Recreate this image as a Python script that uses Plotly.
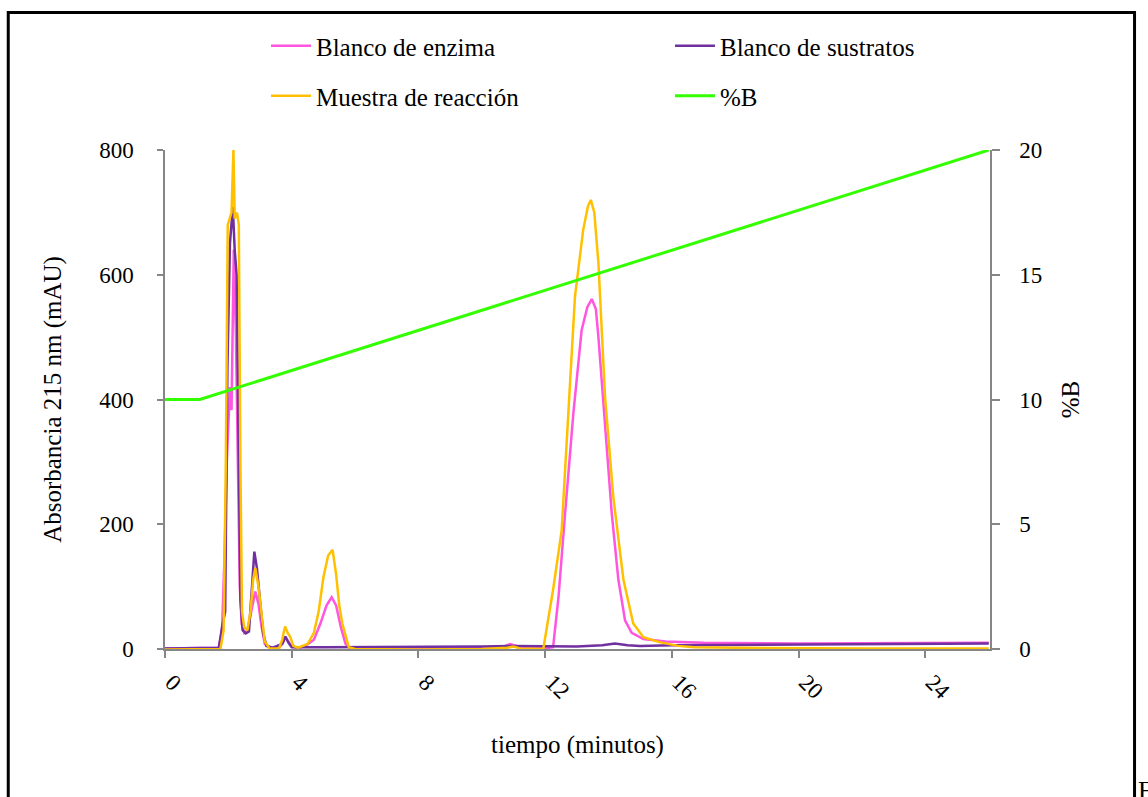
import plotly.graph_objects as go

# --- Cromatograma: absorbancia a 215 nm (mAU) frente al tiempo (min) ---
t_enzima = [0, 1.0, 1.7, 1.8, 1.88, 1.95, 2.05, 2.1, 2.17, 2.24, 2.3, 2.36, 2.42, 2.5, 2.6,
            2.7, 2.85, 2.95, 3.05, 3.15, 3.3, 3.6, 3.72, 3.8, 3.9, 4.0, 4.2, 4.4, 4.7, 4.9,
            5.1, 5.26, 5.4, 5.55, 5.7, 5.85, 6.0, 7, 8, 9, 10, 10.7, 10.9, 11.1, 11.5, 12.0,
            12.25, 12.42, 12.63, 12.89, 13.15, 13.33, 13.47, 13.6, 13.68, 13.89, 14.1,
            14.31, 14.52, 14.73, 15.1, 15.8, 17, 20, 23, 26]
abs_enzima = [1, 1, 2, 30, 150, 300, 420, 383, 640, 500, 300, 100, 40, 26, 30,
              55, 92, 72, 35, 8, 3, 2, 10, 19, 12, 4, 2, 4, 15, 40,
              70, 83, 70, 35, 8, 1, 0, 0, 1, 1, 2, 4, 8, 5, 2, 1,
              3, 83, 218, 378, 511, 548, 561, 545, 500, 351, 218,
              111, 46, 26, 16, 12, 10, 9, 10, 10]

t_sustratos = [0, 1.0, 1.7, 1.8, 1.9, 1.97, 2.05, 2.14, 2.2, 2.26, 2.32, 2.38, 2.45, 2.55,
               2.65, 2.72, 2.82, 2.9, 3.0, 3.1, 3.2, 3.4, 3.7, 3.8, 3.9, 4.0, 5, 6, 8, 10,
               11, 12, 13, 13.8, 14.2, 14.6, 15, 16, 20, 23, 26]
abs_sustratos = [1, 1, 2, 35, 60, 450, 650, 709, 640, 600, 350, 80, 30, 25,
                 28, 80, 156, 130, 78, 25, 5, 2, 8, 20, 10, 3, 3, 3, 4, 4,
                 5, 4, 4, 6, 9, 6, 5, 6, 7, 8, 9]

t_muestra = [0, 1.0, 1.75, 1.85, 1.92, 1.98, 2.05, 2.1, 2.16, 2.2, 2.27, 2.33, 2.38, 2.43,
             2.5, 2.6, 2.7, 2.78, 2.85, 2.95, 3.05, 3.15, 3.3, 3.6, 3.7, 3.79, 3.88, 3.95,
             4.05, 4.2, 4.5, 4.7, 4.85, 5.0, 5.15, 5.29, 5.4, 5.5, 5.6, 5.7, 5.8, 6.0, 8,
             10, 10.8, 11.0, 11.2, 11.94, 12.25, 12.52, 12.73, 12.94, 13.2, 13.35, 13.44,
             13.55, 13.68, 13.89, 14.15, 14.47, 14.78, 15.1, 15.6, 16.2, 16.7, 18, 22, 26]
abs_muestra = [-1, -1, 0, 30, 300, 680, 690, 700, 800, 690, 700, 680, 300, 60,
               35, 30, 60, 110, 130, 100, 55, 12, 1, 1, 15, 36, 25, 20,
               5, 2, 8, 26, 60, 115, 150, 159, 120, 70, 40, 20, 3, 0, -1,
               0, 2, 4, 1, 0, 95, 190, 378, 565, 672, 710, 720,
               700, 619, 404, 244, 111, 41, 19, 11, 5, 3, 2, 1, 1]

# Programa de gradiente (%B)
t_gradiente = [0, 1.1, 26.0]
pct_b = [10, 10, 20]

SERIF = "Liberation Serif"
AXIS_GREY = "#868686"

fig = go.Figure()
fig.add_trace(go.Scatter(x=t_enzima, y=abs_enzima, name="Blanco de enzima", mode="lines",
                         line=dict(color="#FF55DF", width=2.5), cliponaxis=False,
                         legend="legend"))
fig.add_trace(go.Scatter(x=t_sustratos, y=abs_sustratos, name="Blanco de sustratos", mode="lines",
                         line=dict(color="#7030A0", width=2.5), cliponaxis=False,
                         legend="legend"))
fig.add_trace(go.Scatter(x=t_muestra, y=abs_muestra, name="Muestra de reacción", mode="lines",
                         line=dict(color="#FFC000", width=2.5), cliponaxis=False,
                         legend="legend2"))
fig.add_trace(go.Scatter(x=t_gradiente, y=pct_b, name="%B", mode="lines", yaxis="y2",
                         line=dict(color="#33FF00", width=3), cliponaxis=False,
                         legend="legend2"))

# Leyenda en dos filas de dos columnas (una leyenda por fila)
legend_common = dict(orientation="h", xanchor="left", yanchor="middle",
                     font=dict(family=SERIF, size=25, color="black"),
                     bgcolor="rgba(0,0,0,0)", borderwidth=0,
                     entrywidth=349, entrywidthmode="pixels", itemwidth=40)

fig.update_layout(
    width=1148, height=797,
    margin=dict(l=165, r=158, t=150, b=148),
    paper_bgcolor="white", plot_bgcolor="white",
    font=dict(family=SERIF, color="black"),
    xaxis=dict(range=[0, 26.04], tickvals=[0, 4, 8, 12, 16, 20, 24], tickangle=45,
               ticks="outside", ticklen=7, tickcolor=AXIS_GREY, tickwidth=1.5,
               showline=True, linecolor=AXIS_GREY, linewidth=1.5, showgrid=False,
               zeroline=False, layer="below traces", ticklabelstandoff=2,
               ticklabelshift=7,
               tickfont=dict(family=SERIF, size=23),
               title=dict(text="tiempo (minutos)", font=dict(family=SERIF, size=25),
                          standoff=32)),
    yaxis=dict(range=[0, 800], tickvals=[0, 200, 400, 600, 800],
               ticks="outside", ticklen=6, tickcolor=AXIS_GREY, tickwidth=1.5,
               showline=True, linecolor=AXIS_GREY, linewidth=1.5, showgrid=False,
               zeroline=False, layer="below traces", ticklabelstandoff=19,
               tickfont=dict(family=SERIF, size=23),
               title=dict(text="Absorbancia 215 nm (mAU)", font=dict(family=SERIF, size=25),
                          standoff=30)),
    yaxis2=dict(range=[0, 20], tickvals=[0, 5, 10, 15, 20], overlaying="y", side="right",
                ticks="outside", ticklen=8, tickcolor=AXIS_GREY, tickwidth=1.5,
                showline=True, linecolor=AXIS_GREY, linewidth=1.5, showgrid=False,
                zeroline=False, ticklabelstandoff=15,
                tickfont=dict(family=SERIF, size=23),
                title=dict(text="%B", font=dict(family=SERIF, size=25), standoff=20)),
    legend=dict(x=0.1224, y=1.2084, **legend_common),
    legend2=dict(x=0.1224, y=1.1082, **legend_common),
    shapes=[dict(type="rect", xref="paper", yref="paper",
                 x0=-0.19, x1=1.1752, y0=-0.33, y1=1.2756,
                 line=dict(color="black", width=3), fillcolor="rgba(0,0,0,0)",
                 layer="above")],
    annotations=[dict(text="F", xref="paper", yref="paper", x=1.177, y=-0.2826,
                      xanchor="left", yanchor="middle", showarrow=False,
                      font=dict(family=SERIF, size=26, color="black"))],
)

fig.write_html("out.html")
